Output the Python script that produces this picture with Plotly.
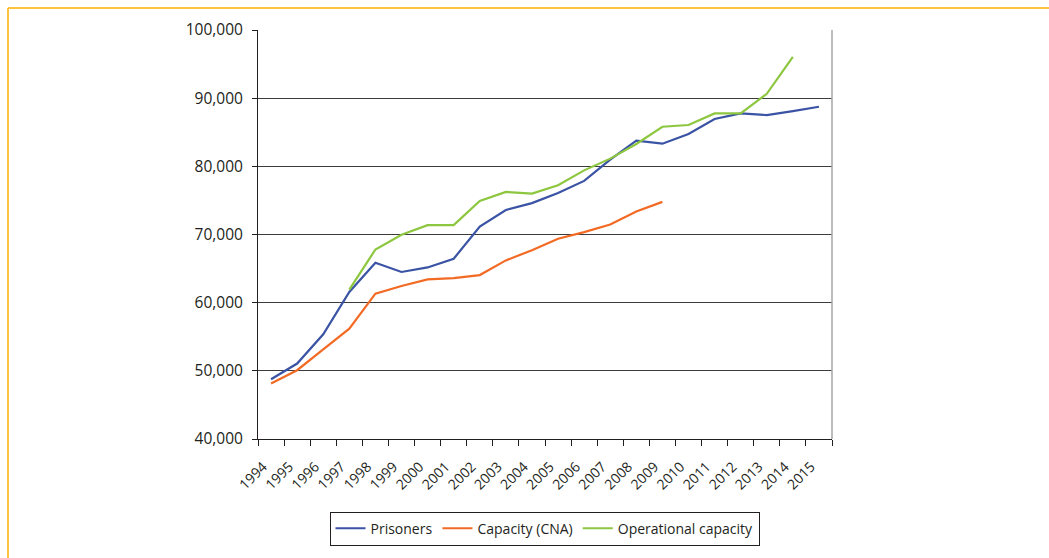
import plotly.graph_objects as go

# Prison population and capacity, England & Wales, 1994-2015
years = [str(y) for y in range(1994, 2016)]

prisoners = [48770, 51070, 55360, 61570, 65860, 64500, 65170, 66440, 71170, 73600,
             74600, 76100, 77860, 80980, 83760, 83320, 84740, 86940, 87760, 87520,
             88100, 88740]

capacity_cna = [48140, 50090, 53160, 56190, 61320, 62440, 63410, 63600, 64050, 66200,
                67700, 69370, 70340, 71460, 73370, 74790, None, None, None, None,
                None, None]

operational_capacity = [None, None, None, 61900, 67800, 69960, 71370, 71370, 74930, 76250,
                        76000, 77220, 79410, 81130, 83280, 85810, 86060, 87760, 87760, 90640,
                        96060, None]

y_ticks = [40000, 50000, 60000, 70000, 80000, 90000, 100000]

FONT = "Open Sans"
W, H = 1049, 558
L, R, T, B = 258, 217, 30, 117
PW, PH = W - L - R, H - T - B


def px_x(x):
    return (x - L) / PW


def px_y(y):
    return (H - B - y) / PH


fig = go.Figure()
series = [
    ("Prisoners", prisoners, "#3A53A4"),
    ("Capacity (CNA)", capacity_cna, "#F26A24"),
    ("Operational capacity", operational_capacity, "#8DC63F"),
]
for name, vals, col in series:
    fig.add_trace(go.Scatter(
        x=years, y=vals, name=name, mode="lines",
        line=dict(color=col, width=2.2), connectgaps=False,
    ))

fig.update_layout(
    width=W, height=H,
    margin=dict(l=L, r=R, t=T, b=B, pad=0),
    paper_bgcolor="white", plot_bgcolor="white",
    font=dict(family=FONT, color="#231F20"),
    showlegend=True,
    legend=dict(
        orientation="h", x=px_x(544.5), xanchor="center",
        y=px_y(514), yanchor="top",
        bordercolor="#231F20", borderwidth=1,
        font=dict(size=14, family=FONT),
        itemwidth=30, tracegroupgap=0,
    ),
    xaxis=dict(
        type="category", range=[-0.5, len(years) - 0.5],
        tickson="boundaries", ticks="outside", ticklen=6, tickcolor="#231F20",
        showline=True, linecolor="#231F20", linewidth=1,
        showgrid=False, tickangle=-45,
        tickfont=dict(size=14, family=FONT),
        ticklabelstandoff=13, ticklabelshift=-8,
    ),
    yaxis=dict(
        range=[40000, 100000], tickvals=y_ticks, tickformat=",",
        ticks="outside", ticklen=5, tickcolor="#231F20",
        showline=True, linecolor="#231F20", linewidth=1,
        showgrid=True, gridcolor="#3C3C3C", gridwidth=1,
        zeroline=False, tickfont=dict(size=15.5, family=FONT),
        ticklabelstandoff=6,
    ),
    shapes=[
        # right edge of the plot area
        dict(type="line", xref="paper", yref="paper", x0=1, x1=1, y0=0, y1=1,
             line=dict(color="#A6A6A6", width=1.5)),
        # outer frame
        dict(type="line", xref="paper", yref="paper",
             x0=px_x(8), x1=px_x(1060), y0=px_y(8), y1=px_y(8),
             line=dict(color="#FFC23E", width=2)),
        dict(type="line", xref="paper", yref="paper",
             x0=px_x(8), x1=px_x(8), y0=px_y(8), y1=px_y(570),
             line=dict(color="#FFC23E", width=2)),
    ],
)

fig.write_html("out.html")
